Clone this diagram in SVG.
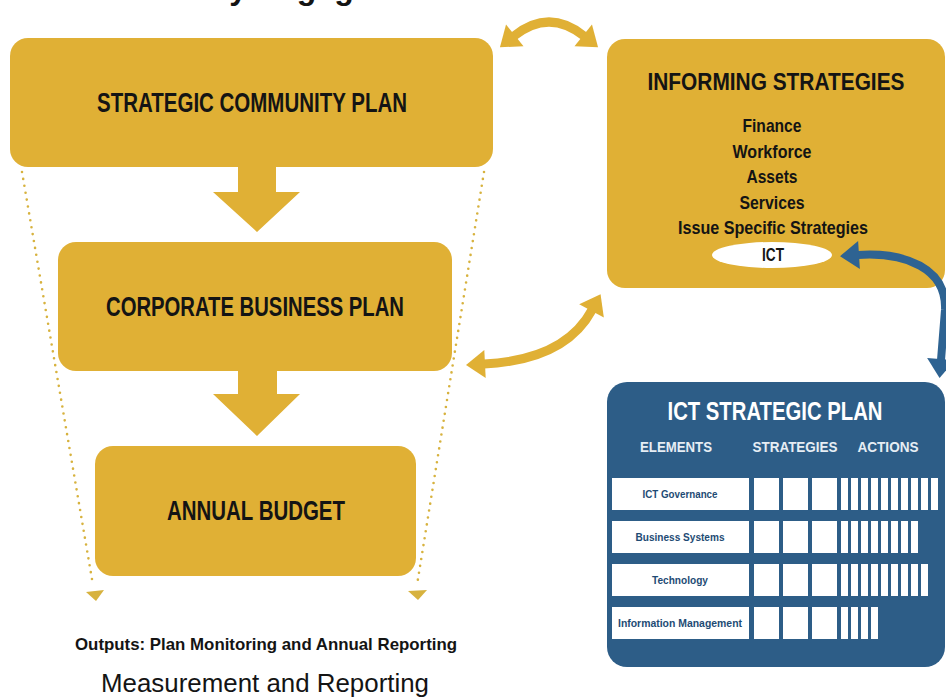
<svg xmlns="http://www.w3.org/2000/svg" width="946" height="698" viewBox="0 0 946 698">
<defs>
<style>
.gold{fill:#E0B035}
.t{font-family:"Liberation Sans",Arial,sans-serif;font-weight:bold;fill:#141414;text-anchor:middle}
.big{font-size:27px}
.item{font-size:19px}
.w{fill:#ffffff}
.hdr{font-family:"Liberation Sans",Arial,sans-serif;font-weight:bold;font-size:15px;fill:#e6edf4;text-anchor:middle}
.el{font-family:"Liberation Sans",Arial,sans-serif;font-weight:bold;font-size:11px;fill:#1E4B74;text-anchor:middle}
.garc{fill:none;stroke:#E0B035;stroke-width:9;marker-start:url(#gh);marker-end:url(#gh)}
.dot{fill:none;stroke:#D7B23E;stroke-width:2.6;stroke-linecap:round;stroke-dasharray:0 7}
</style>
<marker id="gh" markerUnits="userSpaceOnUse" markerWidth="20" markerHeight="28" refX="1" refY="14" orient="auto-start-reverse" overflow="visible"><path d="M0 0 L19 14 L0 28 Z" fill="#E0B035"/></marker>
<marker id="bh" markerUnits="userSpaceOnUse" markerWidth="20" markerHeight="28" refX="1" refY="14" orient="auto-start-reverse" overflow="visible"><path d="M0 0 L19 14 L0 28 Z" fill="#2E6392"/></marker>
</defs>
<rect width="946" height="698" fill="#ffffff"/>
<text x="71" y="-1" font-family="Liberation Sans, Arial, sans-serif" font-weight="bold" font-size="32" fill="#141414">Community Engagement</text>

<g id="strategic-community-plan">
<rect x="10" y="38" width="483" height="129" rx="18" class="gold"/>
<text x="252" y="112" class="t big" textLength="310" lengthAdjust="spacingAndGlyphs">STRATEGIC COMMUNITY PLAN</text>
</g>
<g id="corporate-business-plan">
<rect x="58" y="242" width="394" height="129" rx="18" class="gold"/>
<text x="255" y="316" class="t big" textLength="298" lengthAdjust="spacingAndGlyphs">CORPORATE BUSINESS PLAN</text>
</g>
<g id="annual-budget">
<rect x="95" y="446" width="321" height="130" rx="18" class="gold"/>
<text x="256" y="520" class="t big" textLength="178" lengthAdjust="spacingAndGlyphs">ANNUAL BUDGET</text>
</g>

<g id="informing-strategies">
<rect x="607" y="39" width="338" height="249" rx="18" class="gold"/>
<text x="776" y="90" class="t" font-size="23" textLength="257" lengthAdjust="spacingAndGlyphs">INFORMING STRATEGIES</text>
<text x="772" y="132" class="t item" textLength="59" lengthAdjust="spacingAndGlyphs">Finance</text>
<text x="772" y="158" class="t item" textLength="79" lengthAdjust="spacingAndGlyphs">Workforce</text>
<text x="772" y="183" class="t item" textLength="51" lengthAdjust="spacingAndGlyphs">Assets</text>
<text x="772" y="209" class="t item" textLength="65" lengthAdjust="spacingAndGlyphs">Services</text>
<text x="773" y="234" class="t item" textLength="190" lengthAdjust="spacingAndGlyphs">Issue Specific Strategies</text>
<ellipse cx="772" cy="255" rx="60" ry="13" fill="#ffffff"/>
<text x="773" y="261" class="t" font-size="18" textLength="22" lengthAdjust="spacingAndGlyphs">ICT</text>
</g>

<g id="ict-strategic-plan">
<rect x="607" y="382" width="338" height="285" rx="20" fill="#2D5D87"/>
<text x="775" y="420" class="t w" font-size="25" style="fill:#ffffff" textLength="215" lengthAdjust="spacingAndGlyphs">ICT STRATEGIC PLAN</text>
<text x="676" y="452" class="hdr" textLength="72" lengthAdjust="spacingAndGlyphs">ELEMENTS</text>
<text x="795" y="452" class="hdr" textLength="85" lengthAdjust="spacingAndGlyphs">STRATEGIES</text>
<text x="888" y="452" class="hdr" textLength="61" lengthAdjust="spacingAndGlyphs">ACTIONS</text>
<g fill="#ffffff">
<rect x="612" y="478" width="137" height="32"/>
<rect x="612" y="521" width="137" height="32"/>
<rect x="612" y="564" width="137" height="32"/>
<rect x="612" y="607" width="137" height="32"/>
<rect x="754" y="478" width="25" height="32"/><rect x="783" y="478" width="25" height="32"/><rect x="812" y="478" width="25" height="32"/>
<rect x="754" y="521" width="25" height="32"/><rect x="783" y="521" width="25" height="32"/><rect x="812" y="521" width="25" height="32"/>
<rect x="754" y="564" width="25" height="32"/><rect x="783" y="564" width="25" height="32"/><rect x="812" y="564" width="25" height="32"/>
<rect x="754" y="607" width="25" height="32"/><rect x="783" y="607" width="25" height="32"/><rect x="812" y="607" width="25" height="32"/>
<rect x="841" y="478" width="7" height="32"/><rect x="851" y="478" width="7" height="32"/><rect x="861" y="478" width="7" height="32"/><rect x="871" y="478" width="7" height="32"/><rect x="881" y="478" width="7" height="32"/><rect x="891" y="478" width="7" height="32"/><rect x="901" y="478" width="7" height="32"/><rect x="911" y="478" width="7" height="32"/><rect x="921" y="478" width="7" height="32"/><rect x="931" y="478" width="7" height="32"/>
<rect x="841" y="521" width="7" height="32"/><rect x="851" y="521" width="7" height="32"/><rect x="861" y="521" width="7" height="32"/><rect x="871" y="521" width="7" height="32"/><rect x="881" y="521" width="7" height="32"/><rect x="891" y="521" width="7" height="32"/><rect x="901" y="521" width="7" height="32"/><rect x="911" y="521" width="7" height="32"/>
<rect x="841" y="564" width="7" height="32"/><rect x="851" y="564" width="7" height="32"/><rect x="861" y="564" width="7" height="32"/><rect x="871" y="564" width="7" height="32"/><rect x="881" y="564" width="7" height="32"/><rect x="891" y="564" width="7" height="32"/><rect x="901" y="564" width="7" height="32"/><rect x="911" y="564" width="7" height="32"/><rect x="921" y="564" width="7" height="32"/>
<rect x="841" y="607" width="7" height="32"/><rect x="851" y="607" width="7" height="32"/><rect x="861" y="607" width="7" height="32"/><rect x="871" y="607" width="7" height="32"/>
</g>
<text x="680" y="498" class="el" textLength="75" lengthAdjust="spacingAndGlyphs">ICT Governance</text>
<text x="680" y="541" class="el" textLength="89" lengthAdjust="spacingAndGlyphs">Business Systems</text>
<text x="680" y="584" class="el" textLength="56" lengthAdjust="spacingAndGlyphs">Technology</text>
<text x="680" y="627" class="el" textLength="124" lengthAdjust="spacingAndGlyphs">Information Management</text>
</g>

<g id="outputs">
<text x="266" y="650" class="t" font-size="17" textLength="382" lengthAdjust="spacingAndGlyphs">Outputs: Plan Monitoring and Annual Reporting</text>
<text x="265" y="692" font-family="Liberation Sans, Arial, sans-serif" font-size="25" fill="#141414" text-anchor="middle" textLength="328" lengthAdjust="spacingAndGlyphs">Measurement and Reporting</text>
</g>

<g id="connectors">
<path d="M238 166 H276 V192 H300 L257 232 L213 192 H238 Z" class="gold"/>
<path d="M238 370 H277 V394 H300 L257 436 L213 394 H238 Z" class="gold"/>
<path class="garc" d="M514 36 Q549 8 584 36"/>
<path class="garc" d="M484 364 Q565 360 592 310"/>
<path d="M22 172 L93 585" class="dot"/>
<path d="M484 172 L417 585" class="dot"/>
<polygon points="86,592 104,590 96,601" fill="#D7B23E"/>
<polygon points="408,591 427,590 418,600" fill="#D7B23E"/>
<path d="M858 255 C905 252 947 268 945 310 L941 360" fill="none" stroke="#2E6392" stroke-width="8" marker-start="url(#bh)" marker-end="url(#bh)"/>
</g>
</svg>
